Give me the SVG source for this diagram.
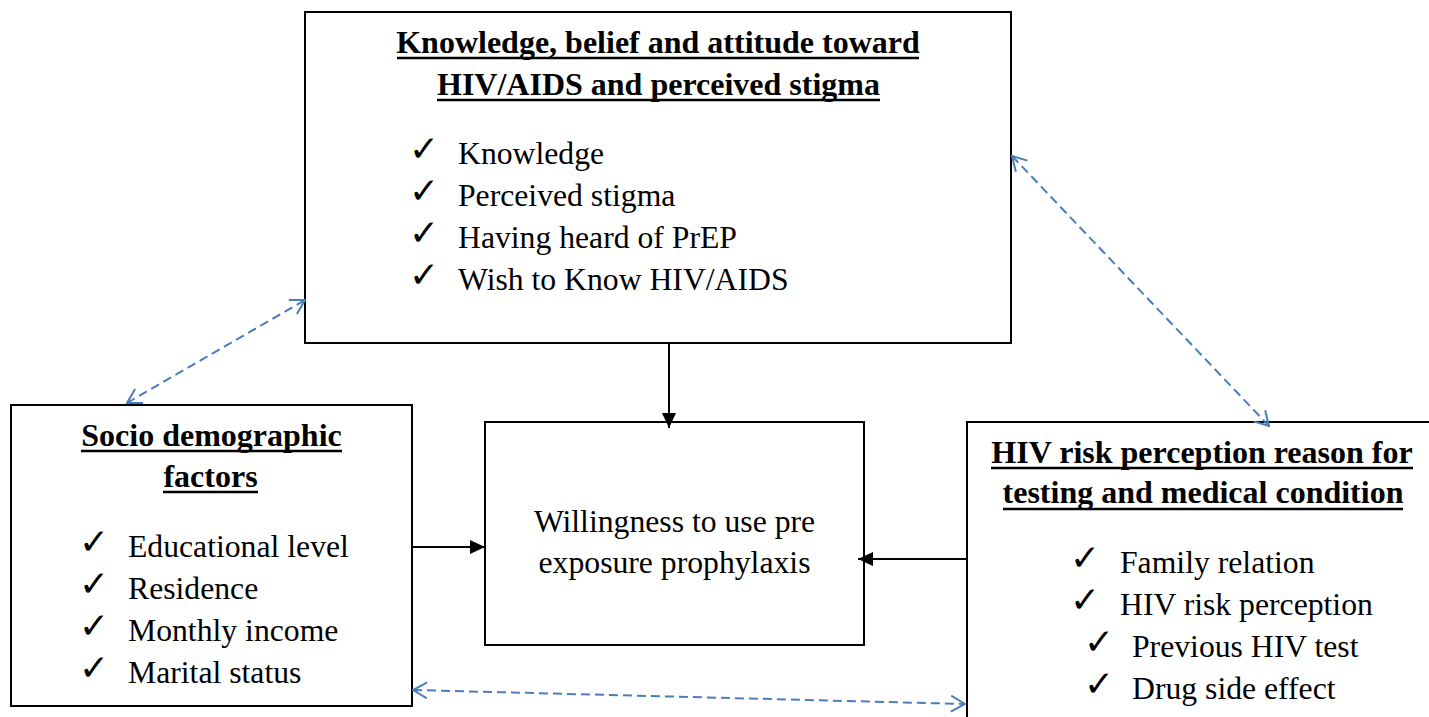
<svg xmlns="http://www.w3.org/2000/svg" width="1429" height="717" viewBox="0 0 1429 717">
<style>
.box{fill:#fff;stroke:#000;stroke-width:2}
.t{font-family:"Liberation Serif","Times New Roman",serif;font-size:31.7px;fill:#000}
.h{font-family:"Liberation Serif","Times New Roman",serif;font-size:32px;font-weight:bold;fill:#000;text-anchor:middle}
.ck{font-family:"DejaVu Sans",sans-serif;font-size:36px;font-weight:bold;fill:#000}
.ul{stroke:#000;stroke-width:2.6}
.solid{stroke:#000;stroke-width:2;fill:none}
.dash{stroke:#4a7ebb;stroke-width:2;stroke-dasharray:9 5;fill:none}
</style>
<defs>
<marker id="ah" viewBox="0 0 15 14" refX="15" refY="7" markerWidth="15" markerHeight="14" markerUnits="userSpaceOnUse" orient="auto">
<path d="M0,0 L15,7 L0,14 z" fill="#000"/>
</marker>
<marker id="oh" viewBox="0 0 16 18" refX="15" refY="9" markerWidth="16" markerHeight="18" markerUnits="userSpaceOnUse" orient="auto-start-reverse">
<path d="M1,1 L15,9 L1,17" fill="none" stroke="#4a7ebb" stroke-width="2"/>
</marker>
</defs>
<rect width="1429" height="717" fill="#fff"/>

<g id="knowledge">
<rect class="box" x="305" y="12" width="706" height="331"/>
<text class="h" x="658" y="53">Knowledge, belief and attitude toward</text>
<line class="ul" x1="397" y1="58" x2="919" y2="58"/>
<text class="h" x="658.5" y="95">HIV/AIDS and perceived stigma</text>
<line class="ul" x1="437" y1="100" x2="880" y2="100"/>
<text class="ck" x="409" y="161">✓</text><text class="t" x="458" y="164">Knowledge</text>
<text class="ck" x="409" y="203">✓</text><text class="t" x="458" y="206">Perceived stigma</text>
<text class="ck" x="409" y="245">✓</text><text class="t" x="458" y="248">Having heard of PrEP</text>
<text class="ck" x="409" y="287">✓</text><text class="t" x="458" y="290">Wish to Know HIV/AIDS</text>
</g>

<g id="socio">
<rect class="box" x="11" y="405" width="401" height="301"/>
<text class="h" x="211.5" y="446">Socio demographic</text>
<line class="ul" x1="81" y1="451" x2="342" y2="451"/>
<text class="h" x="210.5" y="487">factors</text>
<line class="ul" x1="163" y1="492" x2="258" y2="492"/>
<text class="ck" x="79" y="554">✓</text><text class="t" x="128" y="557">Educational level</text>
<text class="ck" x="79" y="596">✓</text><text class="t" x="128" y="599">Residence</text>
<text class="ck" x="79" y="638">✓</text><text class="t" x="128" y="641">Monthly income</text>
<text class="ck" x="79" y="680">✓</text><text class="t" x="128" y="683">Marital status</text>
</g>

<g id="willingness">
<rect class="box" x="485" y="422" width="379" height="223"/>
<text class="t" x="674.5" y="532" text-anchor="middle">Willingness to use pre</text>
<text class="t" x="674.5" y="573" text-anchor="middle">exposure prophylaxis</text>
</g>

<g id="risk">
<rect class="box" x="967" y="422" width="480" height="310"/>
<text class="h" x="1202" y="463">HIV risk perception reason for</text>
<line class="ul" x1="991" y1="468" x2="1413" y2="468"/>
<text class="h" x="1203" y="503">testing and medical condition</text>
<line class="ul" x1="1003" y1="509" x2="1403" y2="509"/>
<text class="ck" x="1070" y="570">✓</text><text class="t" x="1120" y="573">Family relation</text>
<text class="ck" x="1070" y="612">✓</text><text class="t" x="1120" y="615">HIV risk perception</text>
<text class="ck" x="1084" y="654">✓</text><text class="t" x="1132" y="657">Previous HIV test</text>
<text class="ck" x="1084" y="696">✓</text><text class="t" x="1132" y="699">Drug side effect</text>
</g>

<g id="connectors">
<line class="solid" x1="669" y1="343" x2="669" y2="428" marker-end="url(#ah)"/>
<line class="solid" x1="413" y1="547" x2="485" y2="547" marker-end="url(#ah)"/>
<line class="solid" x1="967" y1="559" x2="858" y2="559" marker-end="url(#ah)"/>
<line class="dash" x1="127" y1="403" x2="305" y2="300" marker-start="url(#oh)" marker-end="url(#oh)"/>
<line class="dash" x1="1012" y1="156" x2="1269" y2="426" marker-start="url(#oh)" marker-end="url(#oh)"/>
<line class="dash" x1="413" y1="690" x2="965" y2="704" marker-start="url(#oh)" marker-end="url(#oh)"/>
</g>
</svg>
